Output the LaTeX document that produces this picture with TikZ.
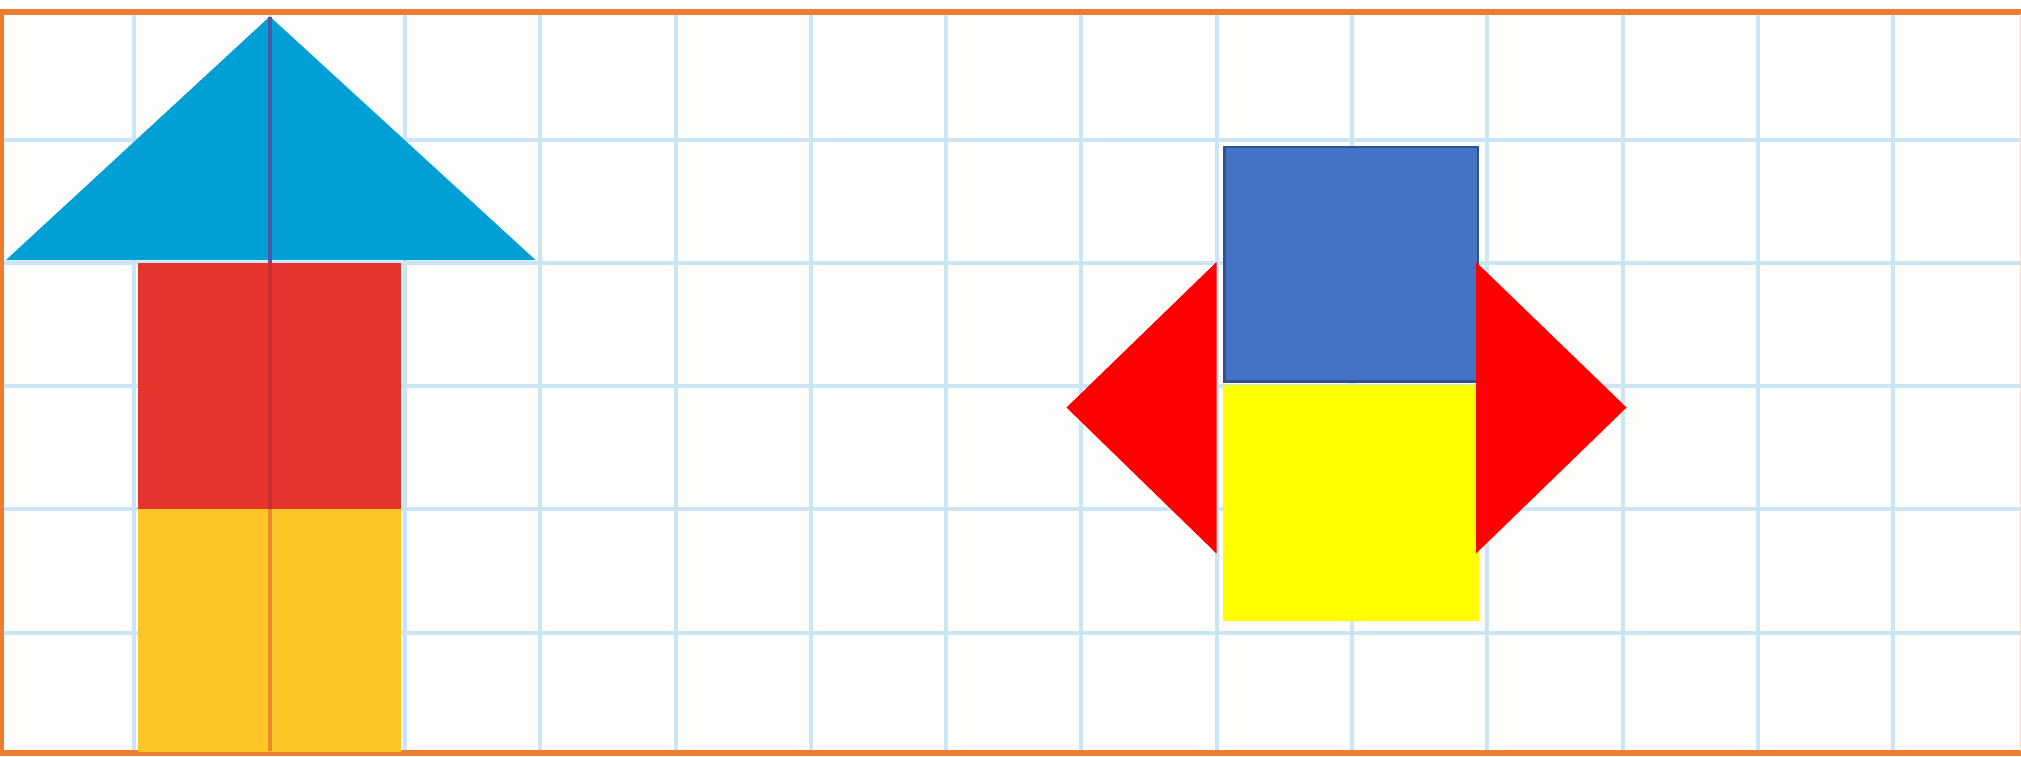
\documentclass[tikz,border=0pt]{standalone}
\definecolor{bg}{RGB}{253,253,252}
\definecolor{gridblue}{RGB}{202,230,245}
\definecolor{borderorange}{RGB}{237,125,49}
\definecolor{skyblue}{RGB}{0,160,214}
\definecolor{brick}{RGB}{229,52,45}
\definecolor{amber}{RGB}{252,198,38}
\definecolor{officeblue}{RGB}{68,114,196}
\definecolor{officeblueline}{RGB}{47,82,143}
\definecolor{pureyellow}{RGB}{255,255,0}
\definecolor{purered}{RGB}{255,0,0}
\definecolor{axisonblue}{RGB}{75,90,165}
\definecolor{axisonred}{RGB}{198,48,44}
\definecolor{axisonyellow}{RGB}{238,135,42}
\definecolor{edgepink}{RGB}{250,215,200}
\tikzset{
  gridline/.style={draw=gridblue, line width=2pt},
  frameline/.style={draw=borderorange, line width=3.2pt},
  axisline/.style={line width=2.3pt},
}
\begin{document}
\begin{tikzpicture}[x=0.5pt,y=-0.5pt]
\useasboundingbox (0,0) rectangle (2021,756);
\fill[bg] (0,0) rectangle (2021,756);
% grid
\foreach \k in {1,...,14} {
  \draw[gridline] ({-1+135.3*\k},12) -- ({-1+135.3*\k},756);
}
\foreach \j in {1,...,5} {
  \draw[gridline] (0,{17+123.1*\j}) -- (2021,{17+123.1*\j});
}
% frame
\draw[frameline] (0,12) -- (2021,12);
\draw[frameline] (0,753) -- (2021,753);
\draw[draw=borderorange, line width=2pt] (1.5,10) -- (1.5,756);
\draw[draw=edgepink, line width=1pt] (2020.5,14) -- (2020.5,751);
% left figure
\fill[skyblue] (6,260) -- (269.8,16.5) -- (535.5,260) -- cycle;
\fill[brick] (138,263) rectangle (400.5,508.5);
\fill[amber] (138,508.5) rectangle (400.5,752);
\coordinate (ax0) at (270,17);
\coordinate (ax1) at (270,261.5);
\coordinate (ax2) at (270,508.5);
\coordinate (ax3) at (270,751);
\draw[axisline, draw=axisonblue] (ax0) -- (ax1);
\draw[axisline, draw=axisonred] (ax1) -- (ax2);
\draw[axisline, draw=axisonyellow] (ax2) -- (ax3);
% right figure
\fill[pureyellow] (1223,385) rectangle (1479,621);
\filldraw[fill=officeblue, draw=officeblueline, line width=1.3pt] (1224.5,147) rectangle (1478,381.5);
\fill[purered] (1216.5,262) -- (1066.5,407.5) -- (1216.5,553.5) -- cycle;
\fill[purered] (1476,262) -- (1626.5,407.5) -- (1476,553.5) -- cycle;
\end{tikzpicture}
\end{document}
